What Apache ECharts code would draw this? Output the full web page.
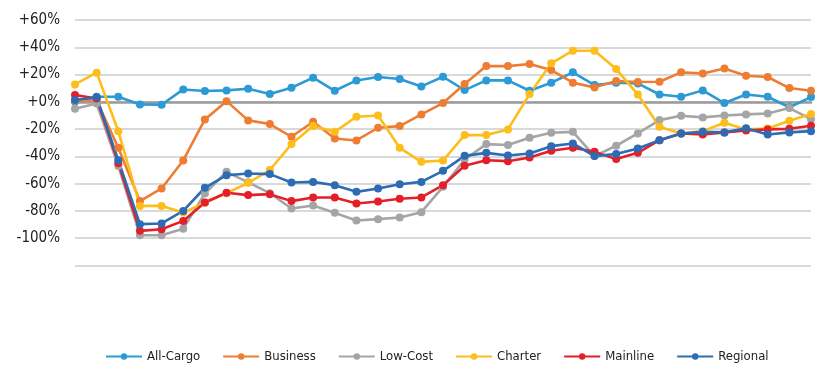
<!DOCTYPE html>
<html>
<head>
<meta charset="utf-8">
<script src="https://cdn.jsdelivr.net/npm/echarts@6/dist/echarts.min.js"></script>
<style>
html,body{margin:0;padding:0;background:#fff;}
#chart{width:832px;height:391px;}
</style>
</head>
<body>
<div id="chart"></div>
<script>
var categories = ['1','2','3','4','5','6','7','8','9','10','11','12','13','14','15','16','17','18','19','20','21','22','23','24','25','26','27','28','29','30','31','32','33','34','35'];
var allCargo = [0, 3.7, 3.7, -1.9, -2.1, 9.1, 7.9, 8.4, 9.6, 5.7, 10.3, 17.7, 8.1, 15.7, 18.2, 16.7, 11.3, 18.4, 8.6, 15.7, 15.7, 8.1, 14, 21.6, 12.3, 14, 13.5, 5.4, 3.7, 8.4, -0.9, 5.4, 3.7, -4, 3.5];
var business = [1, 1, -33.7, -72.8, -63.5, -43, -12.9, 0.5, -13.6, -16.3, -25.6, -14.6, -26.9, -28.3, -19, -17.8, -9.2, -0.9, 13, 26.2, 26.2, 27.7, 23.3, 14, 10.6, 15.2, 14.5, 14.7, 21.6, 20.8, 24.5, 19.1, 18.2, 10.1, 8.1];
var lowCost = [-5, -1.2, -47, -97.8, -97.8, -93, -67.2, -51.3, -59, -67, -78.2, -76, -81.4, -87, -86, -84.8, -80.9, -62.3, -42.3, -31, -31.7, -26.4, -22.7, -22, -39.8, -32.2, -23.2, -13.4, -10.2, -11.4, -10, -9.2, -8.5, -4.6, -12.7];
var charter = [12.8, 21.4, -21.5, -76.3, -76.3, -81.2, -74, -67, -59.4, -50, -31, -17.8, -22, -10.9, -10, -33.7, -44, -43, -24.4, -24.4, -20.2, 5.7, 28.2, 37.5, 37.5, 24, 5.4, -18.3, -23.2, -21.5, -15.3, -20.2, -19.5, -13.9, -9];
var mainline = [5, 2.5, -45, -94.6, -93.4, -87.3, -73.8, -66.7, -68.4, -67.7, -72.8, -70.1, -70.1, -74.5, -73.1, -71.1, -70.1, -61.1, -46.9, -42.8, -43.5, -40.8, -35.9, -33.7, -36.6, -42, -37.4, -28.1, -23.2, -23.9, -22.4, -21, -20.2, -19.8, -17.5];
var regional = [1.3, 3.3, -42.8, -89.7, -89.2, -80, -63, -53.8, -52.6, -53, -59.1, -58.7, -61.1, -66, -63.5, -60.4, -58.7, -50.6, -39.6, -37.4, -39.3, -37.9, -32.5, -30.5, -39.8, -38.3, -34.2, -28.1, -23.2, -22, -22.4, -19.3, -23.9, -22.4, -21.5];
var seriesNames = ['All-Cargo', 'Business', 'Low-Cost', 'Charter', 'Mainline', 'Regional'];
var yTickLabels = {'60':'+60%','40':'+40%','20':'+20%','0':'+0%','-20':'-20%','-40':'-40%','-60':'-60%','-80':'-80%','-100':'-100%','-120':''};

var colors = ['#2B9AD5', '#EE7D32', '#A5A5A5', '#FDBD1A', '#E3202A', '#2D6CB4'];
var dataSets = [allCargo, business, lowCost, charter, mainline, regional];
var FONT = "'Liberation Sans Narrow', 'DejaVu Sans Condensed', sans-serif";

var chart = echarts.init(document.getElementById('chart'), null, {renderer: 'canvas'});
var series = seriesNames.map(function (n, i) {
  return {
    name: n,
    type: 'line',
    data: dataSets[i],
    symbol: 'circle',
    symbolSize: 8,
    lineStyle: {width: 2.6, color: colors[i]},
    itemStyle: {color: colors[i]},
    animation: false
  };
});
chart.setOption({
  animation: false,
  color: colors,
  grid: {left: 75, right: 21, top: 20, bottom: 125.5, containLabel: false},
  xAxis: {
    type: 'category',
    data: categories,
    boundaryGap: false,
    axisLine: {show: true, onZero: true, lineStyle: {color: '#9a9a9a', width: 2.5}},
    axisTick: {show: false},
    axisLabel: {show: false},
    splitLine: {show: false}
  },
  yAxis: {
    type: 'value',
    min: -120,
    max: 60,
    interval: 20,
    axisLine: {show: false},
    axisTick: {show: false},
    axisLabel: {
      margin: 15,
      fontFamily: FONT,
      fontSize: 15,
      color: '#222',
      formatter: function (v) { return yTickLabels[String(v)]; }
    },
    splitLine: {show: true, lineStyle: {color: '#d9d9d9', width: 2}}
  },
  legend: {
    data: seriesNames,
    left: 105,
    top: 350,
    width: 720,
    padding: 0,
    itemWidth: 36,
    itemHeight: 8,
    itemGap: 22,
    textStyle: {fontFamily: FONT, fontSize: 13, color: '#222'}
  },
  series: series
});
</script>
</body>
</html>
